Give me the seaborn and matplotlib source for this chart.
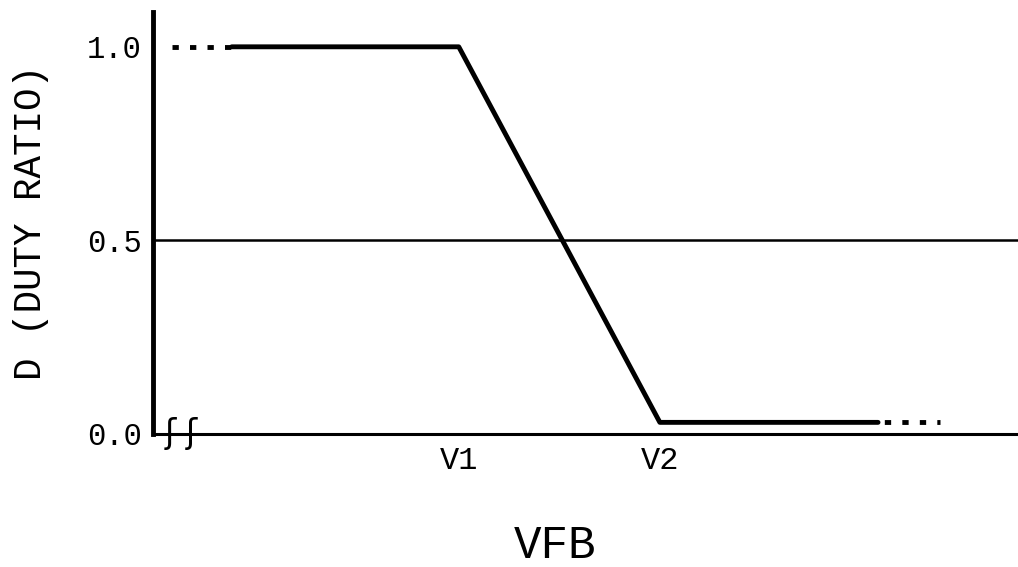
import matplotlib
matplotlib.use("Agg")
import matplotlib.pyplot as plt
import seaborn as sns
import pandas as pd

# Duty ratio D versus feedback voltage VFB
V1, V2 = 1.0, 2.0
curve_x = [-0.129, V1, V2, 3.085]
curve_d = [1.0, 1.0, 0.03, 0.03]
lead_x = [-0.428, -0.129]
lead_d = [1.0, 1.0]
tail_x = [3.085, 3.393]
tail_d = [0.03, 0.03]
y_ticks = [0.0, 0.5, 1.0]
y_tick_labels = ["0.0", "0.5", "1.0"]
x_ticks = [V1, V2]
x_tick_labels = ["V1", "V2"]
reference_level = 0.5

sns.set_theme(style="white")
plt.rcParams["font.family"] = ["Liberation Mono", "DejaVu Sans Mono", "DejaVu Sans"]
for key in ("text.color", "axes.labelcolor", "xtick.color", "ytick.color",
            "axes.edgecolor"):
    plt.rcParams[key] = "black"

fig = plt.figure(figsize=(10.18, 5.67), dpi=100)
ax = fig.add_axes([0.150, 0.2346, 0.85, 0.7443])

curve = pd.DataFrame({"VFB": curve_x, "D": curve_d})
lead = pd.DataFrame({"VFB": lead_x, "D": lead_d})
tail = pd.DataFrame({"VFB": tail_x, "D": tail_d})

sns.lineplot(data=curve, x="VFB", y="D", ax=ax, color="black", lw=3.5,
             sort=False, estimator=None)
sns.lineplot(data=lead, x="VFB", y="D", ax=ax, color="black", lw=3.5,
             linestyle=(0, (1.3, 2.3)), dash_capstyle="butt",
             sort=False, estimator=None)
sns.lineplot(data=tail, x="VFB", y="D", ax=ax, color="black", lw=3.5,
             linestyle=(2.3, (1.3, 2.3)), dash_capstyle="butt",
             sort=False, estimator=None)
ax.axhline(reference_level, color="black", lw=1.8)

ax.set_xlim(-0.522, 3.781)
ax.set_ylim(0, 1.09)

ax.set_yticks(y_ticks)
ax.set_yticklabels(y_tick_labels)
ax.set_xticks(x_ticks)
ax.set_xticklabels(x_tick_labels)
ax.tick_params(axis="y", length=0, pad=8, labelsize=22)
ax.tick_params(axis="x", direction="in", length=12, width=1.5, pad=9,
               labelsize=23)

for side in ("top", "right"):
    ax.spines[side].set_visible(False)
ax.spines["left"].set_linewidth(3.5)
ax.spines["bottom"].set_linewidth(2.2)

ax.set_xlabel("VFB", fontsize=33, va="center")
ax.xaxis.set_label_coords(0.465, -0.265)
ax.set_ylabel("D (DUTY RATIO)", fontsize=27, va="center")
ax.yaxis.set_label_coords(-0.141, 0.502)

# axis break mark near the origin
ax.text(-0.378, 0.0, "ʃ ʃ", ha="center", va="center", fontsize=24,
        family=["DejaVu Sans"], color="black", clip_on=False)

fig.savefig("out.png", dpi=100, facecolor="white")
